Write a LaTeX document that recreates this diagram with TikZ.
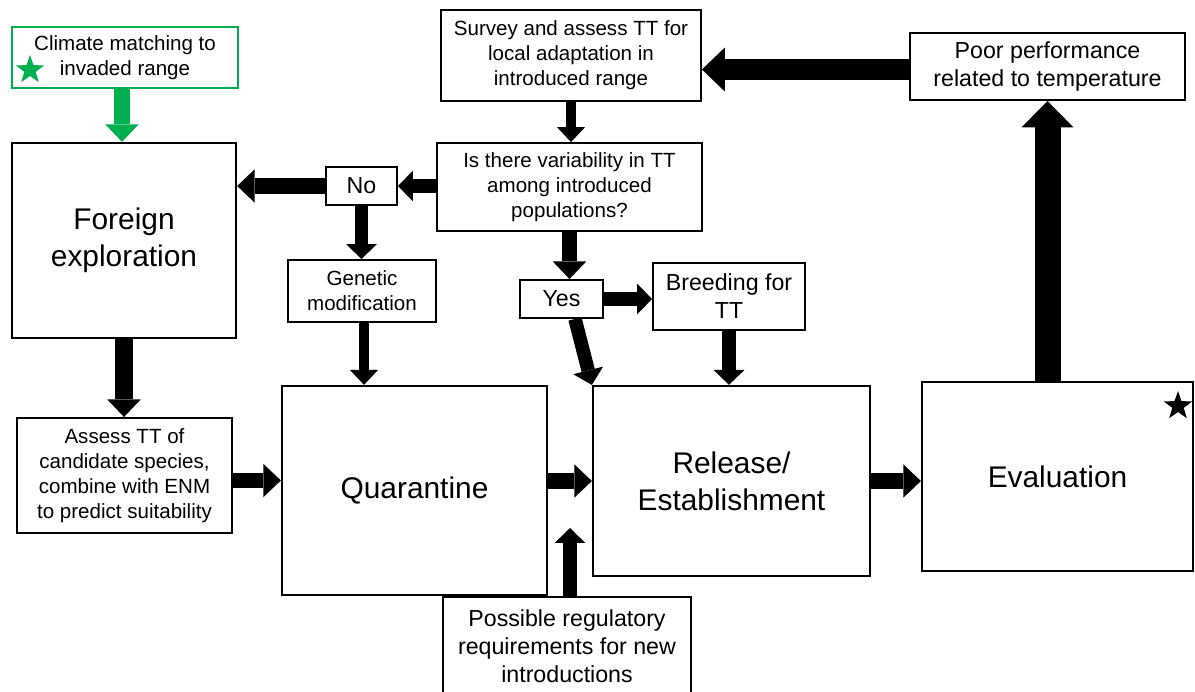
\documentclass[tikz,border=0pt]{standalone}
\usepackage{fontspec}
\setmainfont{Liberation Sans}
\usetikzlibrary{shapes.geometric, arrows.meta}
\definecolor{leafgreen}{RGB}{0,176,80}
\tikzstyle{bigbox} = [rectangle, draw=black, line width=1.3pt, align=center, inner sep=2pt, font=\fontsize{17}{21}\selectfont]
\tikzstyle{midbox} = [rectangle, draw=black, line width=1.1pt, align=center, inner sep=2pt, font=\fontsize{13.2}{16}\selectfont]
\tikzstyle{smallbox} = [rectangle, draw=black, line width=1.1pt, align=center, inner sep=2pt, font=\fontsize{11.7}{14.2}\selectfont]
\tikzstyle{starmark} = [star, star points=5, star point ratio=2.5, minimum size=0.6cm, inner sep=0pt, draw=none]
\tikzstyle{edge} = [line width=9pt, -{Triangle[length=10pt, width=19pt, line width=0pt]}]
\tikzstyle{thinedge} = [line width=6pt, -{Triangle[length=8.5pt, width=16pt, line width=0pt]}]
\tikzstyle{midedge} = [line width=7.7pt, -{Triangle[length=8.5pt, width=17.5pt, line width=0pt]}]
\tikzstyle{bigedge} = [line width=12pt, -{Triangle[length=13pt, width=25pt, line width=0pt]}]
\tikzstyle{hugeedge} = [line width=14.8pt, -{Triangle[length=15pt, width=29.5pt, line width=0pt]}]

\begin{document}
\begin{tikzpicture}[x=0.02cm, y=-0.02cm]
\useasboundingbox (0,0) rectangle (1195,691);

\node (0) [smallbox, draw=leafgreen, line width=1.6pt, minimum width=4.52cm, minimum height=1.22cm] at (125,57.5) {Climate matching to\\invaded range};
\node (0s) [starmark, fill=leafgreen] at (30,70) {};
\node (1) [bigbox, minimum width=4.48cm, minimum height=3.9cm] at (124,240.5) {Foreign\\exploration};
\node (2) [smallbox, minimum width=4.3cm, minimum height=2.3cm] at (124.5,475.5) {Assess TT of\\candidate species,\\combine with ENM\\to predict suitability};
\node (3) [bigbox, minimum width=5.3cm, minimum height=4.18cm] at (414.5,490.5) {Quarantine};
\node (4) [bigbox, minimum width=5.54cm, minimum height=3.8cm] at (731.5,481) {Release/\\Establishment};
\node (5) [bigbox, minimum width=5.42cm, minimum height=3.78cm] at (1057.5,476.5) {Evaluation};
\node (5s) [starmark, fill=black] at (1178,406) {};
\node (6) [midbox, minimum width=5.5cm, minimum height=1.34cm] at (1047.5,66.5) {Poor performance\\related to temperature};
\node (7) [smallbox, minimum width=5.2cm, minimum height=1.82cm] at (571,55.5) {Survey and assess TT for\\local adaptation in\\introduced range};
\node (8) [smallbox, minimum width=5.3cm, minimum height=1.76cm] at (569.5,187) {Is there variability in TT\\among introduced\\populations?};
\node (9) [midbox, minimum width=1.42cm, minimum height=0.76cm] at (361.5,186) {No};
\node (10) [smallbox, minimum width=2.96cm, minimum height=1.24cm] at (362,291) {Genetic\\modification};
\node (11) [midbox, minimum width=1.66cm, minimum height=0.76cm] at (561.5,299) {Yes};
\node (12) [midbox, minimum width=3.04cm, minimum height=1.34cm] at (729,296.5) {Breeding for\\TT};
\node (13) [midbox, minimum width=4.96cm, minimum height=1.96cm] at (567,646) {Possible regulatory\\requirements for new\\introductions};
\coordinate (13t) at (570,528);

\draw [edge, leafgreen] ([xshift=-0.06cm]0.south) -- ([xshift=-0.06cm]0.south |- 1.north);
\draw [edge, line width=10pt] (1.south) -- (1.south |- 2.north);
\draw [edge] ([yshift=-0.1cm]2.east) -- ([yshift=-0.1cm]2.east -| 3.west);
\draw [edge] (4.west -| 3.east) -- (4.west);
\draw [edge] (4.east) -- (4.east -| 5.west);
\draw [hugeedge] (6.south |- 5.north) -- (6.south);
\draw [bigedge] ([yshift=-0.06cm]6.west) -- ([yshift=-0.06cm]6.west -| 7.east);
\draw [thinedge] (7.south) -- (7.south |- 8.north);
\draw [midedge] (9.east -| 8.west) -- (9.east);
\draw [edge] (9.west) -- (9.west -| 1.east);
\draw [midedge] (9.south) -- (9.south |- 10.north);
\draw [thinedge] ([xshift=0.04cm]10.south) -- ([xshift=0.04cm]10.south |- 3.north);
\draw [edge] (8.south) -- (8.south |- 11.north);
\draw [midedge] (11.east) -- (11.east -| 12.west);
\draw [midedge] (12.south) -- (12.south |- 4.north);
\draw [midedge] ([xshift=0.27cm]11.south) -- (4.north west);
\draw [midedge] (13.north -| 13t) -- (13t);

\end{tikzpicture}
\end{document}
